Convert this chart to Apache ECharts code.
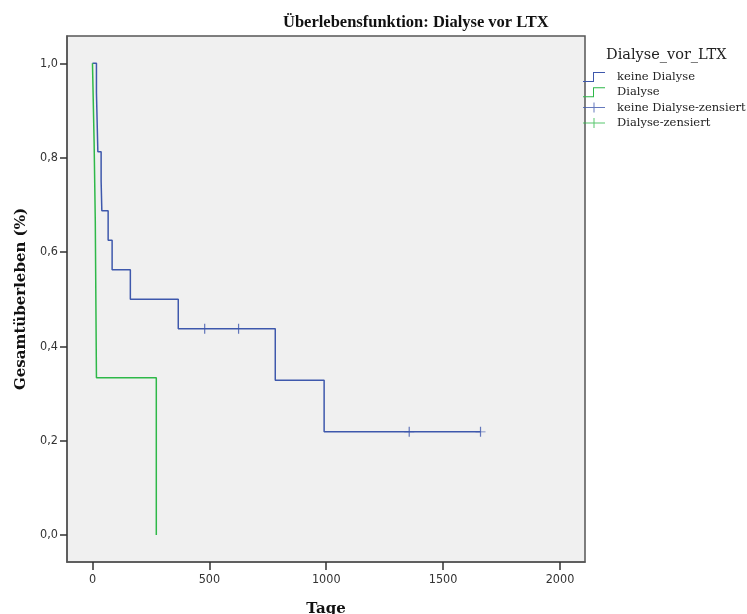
<!DOCTYPE html>
<html>
<head>
<meta charset="utf-8">
<script src="https://cdn.jsdelivr.net/npm/echarts@6/dist/echarts.min.js"></script>
<style>
  html, body { margin: 0; padding: 0; background: #fff; }
  #km { width: 747px; height: 614px; }
</style>
</head>
<body>
<div id="km"></div>
<script>
// Kaplan-Meier Stufen (Tage, Überleben)
const keineDialyseTage = [0, 17, 23, 37, 40, 67, 84, 162, 367, 782, 991, 1660];
const keineDialyseWert = [1, 0.9375, 0.8125, 0.75, 0.6875, 0.625, 0.5625, 0.5, 0.4375, 0.328125, 0.21875, 0.21875];
const dialyseTage = [0, 7, 12, 17, 273];
const dialyseWert = [1, 0.8333, 0.6667, 0.3333, 0];
// zensierte Fälle
const keineDialyseZensTage = [480, 625, 1355, 1660];
const keineDialyseZensWert = [0.4375, 0.4375, 0.21875, 0.21875];
const dialyseZensTage = [];
const dialyseZensWert = [];
// Achsen
const xTicks = [0, 500, 1000, 1500, 2000];
const yTicks = [0, 0.2, 0.4, 0.6, 0.8, 1.0];

const BLUE = "#3e58ac";
const GREEN = "#2eb848";
const serif = "'Liberation Serif', 'DejaVu Serif', serif";
const wideSerif = "'DejaVu Serif', 'Liberation Serif', serif";
const sans = "'DejaVu Sans Condensed', 'Liberation Sans', sans-serif";

const zip = (a, b) => a.map((v, i) => [v, b[i]]);
const stepIcon = "path://M0,9H10V0H22V1H11V10H0Z";
const plusIcon = "path://M0,4.5H22V5.5H0Z M10.5,0H11.5V10H10.5Z";
const censorSymbol = "path://M0,4.6H10V5.4H0Z M4.4,0H5.6V10H4.4Z";

const chart = echarts.init(document.getElementById("km"));
chart.setOption({
  animation: false,
  backgroundColor: "#fff",
  title: [
    {
      text: "Überlebensfunktion: Dialyse vor LTX",
      left: 278,
      top: 9,
      textStyle: { fontFamily: serif, fontWeight: "bold", fontSize: 16.5, color: "#111" }
    },
    {
      text: "Dialyse_vor_LTX",
      left: 601,
      top: 43,
      textStyle: { fontFamily: wideSerif, fontWeight: "normal", fontSize: 14.5, color: "#222" }
    }
  ],
  legend: {
    orient: "vertical",
    left: 578,
    top: 65,
    itemWidth: 22,
    itemHeight: 10,
    itemGap: 1.3,
    textStyle: { fontFamily: wideSerif, fontSize: 11.5, lineHeight: 14, color: "#222", padding: [0, 0, 0, 7] },
    data: [
      { name: "keine Dialyse", icon: stepIcon },
      { name: "Dialyse", icon: stepIcon },
      { name: "keine Dialyse-zensiert", icon: plusIcon },
      { name: "Dialyse-zensiert", icon: plusIcon }
    ]
  },
  grid: {
    left: 67,
    right: 162,
    top: 36,
    bottom: 52,
    outerBoundsMode: "none",
    show: true,
    backgroundColor: "#f0f0f0",
    borderColor: "#555",
    borderWidth: 1.5
  },
  xAxis: {
    type: "value",
    min: -109,
    max: 2107,
    name: "Tage",
    nameLocation: "middle",
    nameGap: 40,
    nameTextStyle: { fontFamily: wideSerif, fontWeight: "bold", fontSize: 15, color: "#111" },
    splitLine: { show: false },
    axisLine: { show: true, onZero: false, lineStyle: { color: "#555", width: 1.5 } },
    axisTick: { show: true, length: 8, customValues: xTicks, lineStyle: { color: "#333", width: 1.5 } },
    axisLabel: {
      customValues: xTicks,
      margin: 11,
      fontFamily: sans,
      fontSize: 12.5,
      color: "#333",
      formatter: v => String(v)
    }
  },
  yAxis: {
    type: "value",
    min: -0.0572,
    max: 1.0579,
    name: "Gesamtüberleben (%)",
    nameLocation: "middle",
    nameGap: 38,
    nameTextStyle: { fontFamily: wideSerif, fontWeight: "bold", fontSize: 15, color: "#111" },
    splitLine: { show: false },
    axisLine: { show: true, onZero: false, lineStyle: { color: "#555", width: 1.5 } },
    axisTick: { show: true, length: 7, customValues: yTicks, lineStyle: { color: "#333", width: 1.5 } },
    axisLabel: {
      customValues: yTicks,
      margin: 9,
      fontFamily: sans,
      fontSize: 12.5,
      color: "#333",
      formatter: v => v.toFixed(1).replace(".", ",")
    }
  },
  series: [
    {
      name: "keine Dialyse",
      type: "line",
      step: "end",
      symbol: "none",
      color: BLUE,
      lineStyle: { width: 1.5, color: BLUE },
      data: zip(keineDialyseTage, keineDialyseWert)
    },
    {
      name: "Dialyse",
      type: "line",
      step: "end",
      symbol: "none",
      color: GREEN,
      lineStyle: { width: 1.5, color: GREEN },
      data: zip(dialyseTage, dialyseWert)
    },
    {
      name: "keine Dialyse-zensiert",
      type: "scatter",
      symbol: censorSymbol,
      symbolSize: 10,
      color: BLUE,
      itemStyle: { color: BLUE },
      data: zip(keineDialyseZensTage, keineDialyseZensWert)
    },
    {
      name: "Dialyse-zensiert",
      type: "scatter",
      symbol: censorSymbol,
      symbolSize: 10,
      color: GREEN,
      itemStyle: { color: GREEN },
      data: zip(dialyseZensTage, dialyseZensWert)
    }
  ]
});
</script>
</body>
</html>
